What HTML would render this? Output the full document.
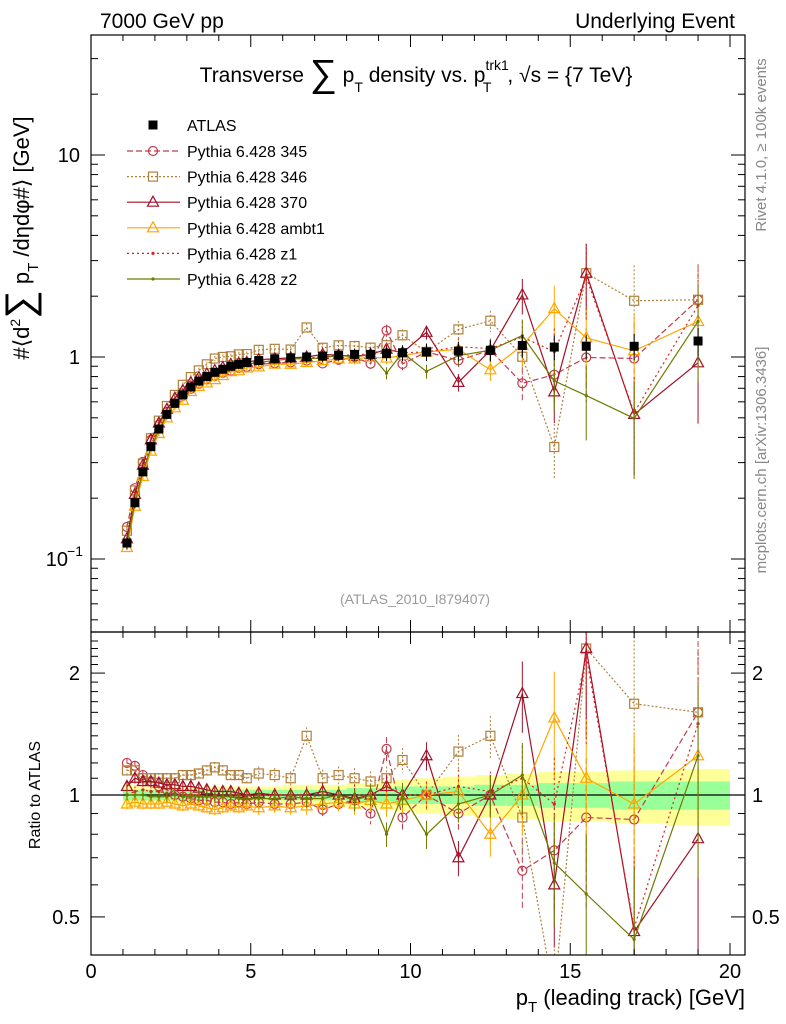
<!DOCTYPE html>
<html><head><meta charset="utf-8"><style>
body{margin:0;background:#fff;}
svg{display:block;font-family:"Liberation Sans",sans-serif;}
</style></head><body>
<svg id="c" width="786" height="1024"></svg>
<script>
const xs=[1.125,1.375,1.625,1.875,2.125,2.375,2.625,2.875,3.125,3.375,3.625,3.875,4.125,4.375,4.625,4.875,5.25,5.75,6.25,6.75,7.25,7.75,8.25,8.75,9.25,9.75,10.5,11.5,12.5,13.5,14.5,15.5,17,19];
const atlas=[0.12,0.19,0.27,0.36,0.44,0.52,0.59,0.65,0.71,0.76,0.80,0.84,0.87,0.90,0.92,0.94,0.96,0.98,0.99,1.0,1.01,1.02,1.03,1.03,1.04,1.05,1.06,1.07,1.08,1.14,1.12,1.13,1.13,1.2];
const statErr=[0.03,0.03,0.03,0.03,0.03,0.03,0.03,0.03,0.03,0.03,0.03,0.03,0.03,0.03,0.03,0.03,0.03,0.03,0.03,0.03,0.03,0.03,0.04,0.04,0.04,0.05,0.05,0.05,0.06,0.06,0.07,0.07,0.08,0.08];
const totErr=[0.07,0.06,0.05,0.05,0.05,0.05,0.05,0.05,0.05,0.05,0.05,0.05,0.05,0.05,0.05,0.05,0.05,0.05,0.06,0.06,0.06,0.06,0.07,0.07,0.08,0.09,0.1,0.11,0.12,0.13,0.14,0.14,0.15,0.16];
const r345=[1.2,1.18,1.12,1.08,1.05,1.03,1.0,0.99,0.98,0.97,0.97,0.96,0.96,0.95,0.96,0.95,0.96,0.95,0.95,0.96,0.92,0.95,0.97,0.9,1.3,0.88,1.0,0.9,1.0,0.65,0.73,0.88,0.87,1.6];
const r346=[1.15,1.15,1.1,1.1,1.1,1.1,1.1,1.12,1.12,1.13,1.15,1.17,1.15,1.12,1.12,1.1,1.13,1.12,1.1,1.4,1.1,1.12,1.1,1.08,1.1,1.22,1.0,1.28,1.4,0.88,0.32,2.3,1.68,1.6];
const r370=[1.05,1.1,1.08,1.08,1.07,1.06,1.06,1.05,1.05,1.04,1.03,1.02,1.02,1.02,1.01,1.0,1.01,1.0,1.0,1.0,1.02,1.0,0.98,1.0,1.05,1.0,1.25,0.7,1.0,1.78,0.6,2.3,0.46,0.78];
const rambt1=[0.95,0.96,0.95,0.95,0.95,0.96,0.95,0.94,0.95,0.94,0.93,0.92,0.93,0.94,0.93,0.94,0.93,0.94,0.93,0.94,0.95,0.96,0.95,0.97,0.95,0.97,1.0,1.02,0.8,1.0,1.55,1.1,0.95,1.25];
const rz1=[1.0,1.02,1.03,1.02,1.02,1.01,1.01,1.0,1.0,1.0,0.99,1.0,0.99,1.0,1.0,0.99,1.0,1.0,1.0,0.98,1.0,0.99,1.0,1.0,1.05,1.0,1.0,1.05,1.02,1.1,0.95,2.2,0.47,1.5];
const rz2=[1.0,1.0,1.0,0.99,0.99,0.99,1.0,0.99,0.99,0.99,0.99,0.99,0.99,0.99,0.98,0.98,0.98,0.98,0.99,0.98,0.98,1.0,0.97,1.0,0.8,1.0,0.8,0.95,1.0,1.12,0.68,0.57,0.44,1.25];
const relErr=[0.03,0.03,0.03,0.03,0.03,0.03,0.03,0.03,0.03,0.03,0.03,0.03,0.03,0.03,0.03,0.03,0.04,0.04,0.04,0.05,0.05,0.05,0.06,0.06,0.07,0.07,0.08,0.1,0.12,0.2,0.3,0.4,0.5,0.5];
const xTicks=[0,5,10,15,20];
const series=[
 {name:"Pythia 6.428 345",r:r345,col:"#c03a4a",dash:"6,3",m:"circle"},
 {name:"Pythia 6.428 346",r:r346,col:"#b0803a",dash:"2,2",m:"square"},
 {name:"Pythia 6.428 370",r:r370,col:"#a01028",dash:"",m:"tri"},
 {name:"Pythia 6.428 ambt1",r:rambt1,col:"#ffa500",dash:"",m:"tri"},
 {name:"Pythia 6.428 z1",r:rz1,col:"#e02020",dash:"2,3",m:"dot"},
 {name:"Pythia 6.428 z2",r:rz2,col:"#6e7a00",dash:"",m:"dot"}];
const NS="http://www.w3.org/2000/svg",svg=document.getElementById('c');
const L=91,R=745,T=35,MB=632,RB=955;
const X=v=>L+v*31.95;
const Y=v=>357-202*Math.log10(v);
const YR=v=>795-405*Math.log10(v);
function el(t,a,p){const e=document.createElementNS(NS,t);for(const k in a)e.setAttribute(k,a[k]);(p||svg).appendChild(e);return e;}
function txt(s,a,p){const e=el('text',a,p);e.textContent=s;return e;}
for(let i=0;i<xs.length;i++){
 const x0=i==0?1:(xs[i-1]+xs[i])/2, x1=i==xs.length-1?20:(xs[i]+xs[i+1])/2;
 const b=el('rect',{x:X(x0),y:YR(1+totErr[i]),width:X(x1)-X(x0),height:YR(1-totErr[i])-YR(1+totErr[i]),fill:'#ffff99'});
 
 const g=el('rect',{x:X(x0),y:YR(1+statErr[i]),width:X(x1)-X(x0),height:YR(1-statErr[i])-YR(1+statErr[i]),fill:'#99ff99'});
 
}
el('line',{x1:L,x2:R,y1:YR(1),y2:YR(1),stroke:'#000','stroke-width':1.2});
const defs=el('defs',{});
el('rect',{x:L,y:T,width:R-L,height:MB-T},el('clipPath',{id:'cm'},defs));
el('rect',{x:L,y:MB,width:R-L,height:RB-MB},el('clipPath',{id:'cr'},defs));
function marker(g,m,x,y,col){
 if(m=='circle')el('circle',{cx:x,cy:y,r:4.5,fill:'none',stroke:col,'stroke-width':1.2},g);
 else if(m=='square')el('rect',{x:x-4.5,y:y-4.5,width:9,height:9,fill:'none',stroke:col,'stroke-width':1.2},g);
 else if(m=='tri')el('polygon',{points:`${x},${y-6} ${x-5.5},${y+4} ${x+5.5},${y+4}`,fill:'none',stroke:col,'stroke-width':1.2},g);
 else el('circle',{cx:x,cy:y,r:1.6,fill:col},g);
}
series.forEach(s=>{
 [['cm',v=>Y(v),true],['cr',v=>YR(v),false]].forEach(([cp,yf,main])=>{
  const g=el('g',{'clip-path':`url(#${cp})`});
  
  
  const vals=xs.map((x,i)=>main?s.r[i]*atlas[i]:s.r[i]);
  el('polyline',{points:xs.map((x,i)=>X(x)+','+yf(vals[i])).join(' '),fill:'none',stroke:s.col,'stroke-width':1.2,'stroke-dasharray':s.dash},g);
  xs.forEach((x,i)=>{const v=vals[i],e=relErr[i]*v;
   el('line',{x1:X(x),x2:X(x),y1:yf(v+e),y2:yf(Math.max(v-e,0.01)),stroke:s.col,'stroke-width':1,'stroke-dasharray':s.dash},g);
   marker(g,s.m,X(x),yf(v),s.col);});
 });
});
const ga=el('g',{'clip-path':'url(#cm)'});
xs.forEach((x,i)=>{const v=atlas[i];el('line',{x1:X(x),x2:X(x),y1:Y(v*(1+totErr[i])),y2:Y(v*(1-totErr[i])),stroke:'#000'},ga);
 el('rect',{x:X(x)-4.5,y:Y(v)-4.5,width:9,height:9,fill:'#000'},ga);});
el('rect',{x:L,y:T,width:R-L,height:MB-T,fill:'none',stroke:'#000','stroke-width':1.2});
el('rect',{x:L,y:MB,width:R-L,height:RB-MB,fill:'none',stroke:'#000','stroke-width':1.2});
for(let v=0;v<=20.5;v+=1){const big=v%5==0,x=X(v);
 [[MB,-1],[T,1],[RB,-1],[MB,1]].forEach(([y,d])=>el('line',{x1:x,x2:x,y1:y,y2:y+d*(big?12:6),stroke:'#000'}));}
xTicks.forEach(v=>{const t=txt(v,{x:X(v),y:978,'font-size':20,'text-anchor':'middle'});});
for(let d=-2;d<=1;d++)for(let k=1;k<10;k++){const v=k*Math.pow(10,d),y=Y(v);if(y<T||y>MB)continue;
 const len=k==1?14:7;el('line',{x1:L,x2:L+len,y1:y,y2:y,stroke:'#000'});el('line',{x1:R,x2:R-len,y1:y,y2:y,stroke:'#000'});}
txt('1',{x:80,y:Y(1)+7,'font-size':20,'text-anchor':'end'});
txt('10',{x:80,y:Y(10)+7,'font-size':20,'text-anchor':'end'});
txt('10',{x:68,y:Y(0.1)+7,'font-size':20,'text-anchor':'end'});
txt('−1',{x:83,y:Y(0.1)-3,'font-size':14,'text-anchor':'end'});
for(let v=0.4;v<=2.5;v+=0.1){const y=YR(v);if(y<MB||y>RB)continue;const big=Math.abs(v-1)<1e-6||Math.abs(v-2)<1e-6||Math.abs(v-0.5)<1e-6;
 const len=big?14:7;el('line',{x1:L,x2:L+len,y1:y,y2:y,stroke:'#000'});el('line',{x1:R,x2:R-len,y1:y,y2:y,stroke:'#000'});}
[[2,'2'],[1,'1'],[0.5,'0.5']].forEach(([v,s])=>{txt(s,{x:80,y:YR(v)+7,'font-size':20,'text-anchor':'end'});txt(s,{x:752,y:YR(v)+7,'font-size':20});});
const t1=txt('7000 GeV pp',{x:100,y:28,'font-size':21});
txt('Underlying Event',{x:735,y:28,'font-size':21,'text-anchor':'end'});
const ti=el('text',{x:416,y:82,'font-size':21,'text-anchor':'middle'});
ti.innerHTML='Transverse <tspan font-size="38" dy="4">∑</tspan><tspan dy="-4"> p</tspan><tspan font-size="14" dy="10">T</tspan><tspan dy="-10"> density vs. p</tspan><tspan font-size="14" dy="-12">trk1</tspan><tspan font-size="14" dx="-26" dy="22">T</tspan><tspan dx="16" dy="-10">, √s = {7 TeV}</tspan>';
const yt=el('text',{transform:'translate(29,238) rotate(-90)','font-size':22,'text-anchor':'middle'});
yt.innerHTML='#⟨d<tspan font-size="14" dy="-9">2</tspan><tspan dy="13" font-size="40">∑</tspan><tspan dy="-4"> p</tspan><tspan font-size="15" dy="9">T</tspan><tspan dy="-9"> /dηdφ#⟩ [GeV]</tspan>';
const rt=txt('Ratio to ATLAS',{transform:'translate(40,795) rotate(-90)','font-size':16,'text-anchor':'middle'});
const xt=el('text',{x:745,y:1005,'font-size':22,'text-anchor':'end'});
xt.innerHTML='p<tspan font-size="15" dy="7">T</tspan><tspan dy="-7"> (leading track) [GeV]</tspan>';
txt('(ATLAS_2010_I879407)',{x:415,y:604,'font-size':14,fill:'#999','text-anchor':'middle'});
txt('Rivet 4.1.0, ≥ 100k events',{transform:'translate(766,145) rotate(-90)','font-size':15,fill:'#888','text-anchor':'middle'});
txt('mcplots.cern.ch [arXiv:1306.3436]',{transform:'translate(766,460) rotate(-90)','font-size':15,fill:'#888','text-anchor':'middle'});
const lg=el('g',{});
el('rect',{x:148.5,y:120.5,width:9,height:9,fill:'#000'},lg);txt('ATLAS',{x:187,y:131,'font-size':16},lg);
series.forEach((s,i)=>{const y=151+i*25.6;const g=el('g',{},lg);
 
 el('line',{x1:127,x2:180,y1:y,y2:y,stroke:s.col,'stroke-width':1.2,'stroke-dasharray':s.dash},g);
 marker(g,s.m,153,y,s.col);txt(s.name,{x:187,y:y+6,'font-size':16},g);});
</script></body></html>
